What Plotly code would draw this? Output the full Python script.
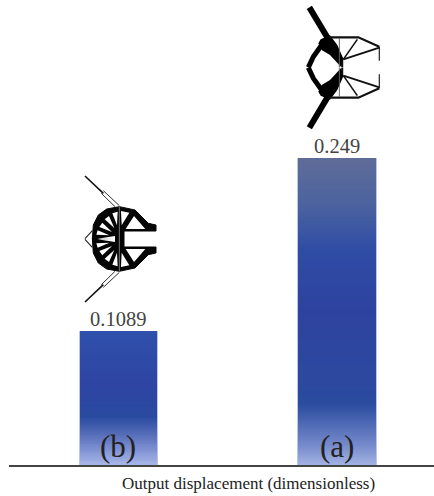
import plotly.graph_objects as go

# ---- data ----
categories = ["(b)", "(a)"]
values = [0.1089, 0.249]
value_labels = ["0.1089", "0.249"]
x_title = "Output displacement (dimensionless)"

# gradient stops: fraction of bar height from the base, colour
grad_b = [(0, "#A8B7E8"), (0.1, "#8496D6"), (0.2, "#5F75BE"), (0.36, "#2A4AA0"), (0.6, "#2E45A3"), (1, "#2F50AC")]
grad_a = [(0, "#A3B2E3"), (0.08, "#6C82C6"), (0.2, "#2B4B9F"), (0.5, "#2E439F"), (0.7, "#2F4CA5"), (0.85, "#4C639F"), (1, "#5F6C98")]

W, H = 434, 496
L, B = 9, 31
Y_MAX = 0.3772


def rgb(h):
    return tuple(int(h[i:i + 2], 16) for i in (1, 3, 5))


def colour_at(stops, f):
    for (f0, c0), (f1, c1) in zip(stops, stops[1:]):
        if f <= f1:
            t = (f - f0) / (f1 - f0)
            a, b = rgb(c0), rgb(c1)
            return "rgb(%d,%d,%d)" % tuple(round(a[i] + (b[i] - a[i]) * t) for i in range(3))
    return stops[-1][1]


fig = go.Figure()
# soft edge behind the bars
fig.add_bar(x=categories, y=values, width=0.362, marker=dict(color="rgba(130,150,220,0.55)", line_width=0),
            hoverinfo="skip", showlegend=False)
# vertical gradient: overlaid bars of decreasing height
N = 150
for k in range(N):
    f = 1 - k / N
    fig.add_bar(x=categories, y=[v * f for v in values], width=0.353,
                marker=dict(color=[colour_at(grad_b, f - 0.5 / N), colour_at(grad_a, f - 0.5 / N)], line_width=0),
                hoverinfo="skip", showlegend=False)

# value labels and bar letters, placed through the axes
for c, v, t in zip(categories, values, value_labels):
    fig.add_annotation(x=c, y=v, text=t, showarrow=False, yanchor="bottom", yshift=-1,
                       font=dict(family="Liberation Serif", size=20.5, color="#444444"))
    fig.add_annotation(x=c, y=0, text=c, showarrow=False, yanchor="bottom", yshift=-1,
                       font=dict(family="Liberation Serif", size=31, color="#222222"))

fig.add_annotation(xref="paper", yref="paper", x=(248 - L) / (W - L), y=(H - B - 484) / (H - B), text=x_title,
                   showarrow=False, yanchor="middle", xanchor="center",
                   font=dict(family="Liberation Serif", size=17, color="#222222"))


# ---- mechanism sketches (illustrations, traced in zoom-crop pixels) ----
def path(pts, origin, axis=None, close=False):
    out = []
    for i, (zx, zy) in enumerate(pts):
        px = origin[0] + zx / 3
        py = origin[1] + zy / 3
        if axis is not None:
            py = 2 * axis - py
        out.append(("M" if i == 0 else "L") + "%.4f,%.4f" % ((px - L) / (W - L), (H - B - py) / (H - B)))
    return " ".join(out) + (" Z" if close else "")


def add(pts, origin, axis, fill=None, line=None, width=0):
    for ax in (None, axis):
        fig.add_shape(type="path", xref="paper", yref="paper", path=path(pts, origin, ax, fill is not None),
                      fillcolor=fill or "rgba(0,0,0,0)", line=dict(color=line or "rgba(0,0,0,0)", width=width))


OB = (60, 160)
AXB = 239
ring = [(97, 237), (100, 195), (115, 165), (140, 147), (178, 140), (225, 150), (265, 190), (288, 195), (288, 213),
        (192, 213), (192, 237)]
add(ring, OB, AXB, fill="#050505", line="#050505", width=1)
for cell in ([(183, 153), (208, 158), (185, 196)],
             [(197, 207), (222, 168), (256, 207)],
             [(173, 155), (157, 160), (171, 196)],
             [(147, 168), (134, 178), (163, 204)],
             [(127, 188), (118, 201), (156, 216)],
             [(113, 211), (109, 224), (148, 226)],
             [(112, 236), (165, 228), (165, 237)]):
    add(cell, OB, AXB, fill="white")
add([(178, 140), (178, 237)], OB, AXB, line="#777777", width=1)
add([(75, 236), (97, 212)], OB, AXB, line="#222222", width=1.1)
add([(75, 48), (130, 100)], OB, AXB, line="#111111", width=1.6)
add([(130, 92), (178, 137)], OB, AXB, line="#333333", width=1)
add([(124, 100), (165, 140)], OB, AXB, line="#333333", width=1)

OA = (280, 0)
AXA = 67.5
add([(88, 22), (142, 112)], OA, AXA, line="#000000", width=6)
add([(115, 130), (122, 118), (150, 106), (172, 135), (190, 176), (184, 202), (150, 165), (125, 150)], OA, AXA,
    fill="#000000")
add([(125, 135), (100, 170), (85, 202)], OA, AXA, line="#000000", width=5)
add([(145, 112), (235, 112), (298, 140)], OA, AXA, line="#111111", width=2.2)
add([(298, 140), (298, 182)], OA, AXA, line="#333333", width=1.3)
add([(178, 115), (178, 202)], OA, AXA, line="#666666", width=1)
add([(232, 118), (190, 178)], OA, AXA, line="#111111", width=1.6)
add([(298, 143), (190, 178)], OA, AXA, line="#111111", width=2)
add([(187, 178), (187, 202)], OA, AXA, line="#111111", width=1.8)

fig.update_layout(
    width=W, height=H, margin=dict(l=L, r=0, t=0, b=B), barmode="overlay", bargap=0,
    paper_bgcolor="white", plot_bgcolor="white", showlegend=False,
    xaxis=dict(type="category", categoryorder="array", categoryarray=categories, range=[-0.501, 1.444],
               showticklabels=False, ticks="", showgrid=False, zeroline=False,
               showline=True, linecolor="#444444", linewidth=1.5),
    yaxis=dict(range=[0, Y_MAX], visible=False),
)
fig.write_html("out.html", config={"displayModeBar": False},
               post_script="document.body.style.margin='0';")
